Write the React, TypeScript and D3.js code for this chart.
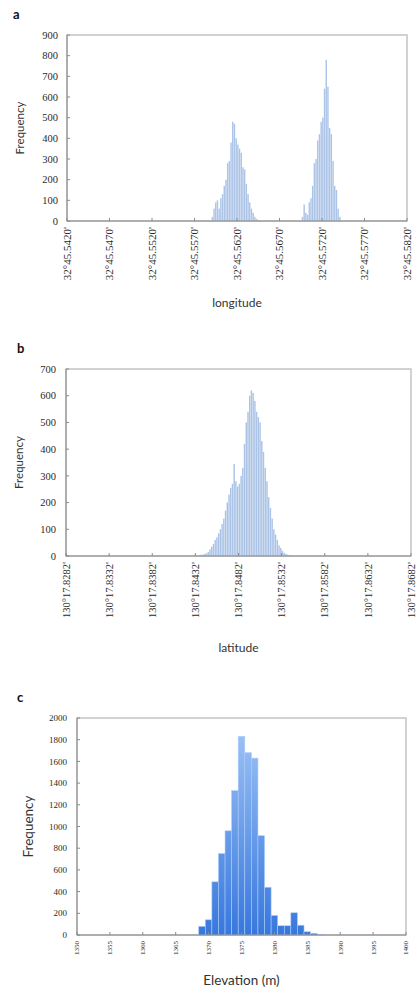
import * as d3 from "d3";

// ---- panel a: longitude (minutes after 32°45')
const lonTicks = [45.542, 45.547, 45.552, 45.557, 45.562, 45.567, 45.572, 45.577, 45.582];
const lonTickLabels = ["32°45.5420'", "32°45.5470'", "32°45.5520'", "32°45.5570'", "32°45.5620'", "32°45.5670'", "32°45.5720'", "32°45.5770'", "32°45.5820'"];
const lonBinWidth = 0.0002;
const lonStart1 = 45.559;
const lonCounts1 = [20, 60, 90, 100, 60, 110, 130, 170, 200, 280, 290, 380, 480, 470, 400, 370, 350, 330, 260, 250, 180, 130, 90, 60, 40, 20, 10, 5];
const lonStart2 = 45.5696;
const lonCounts2 = [20, 80, 40, 30, 90, 110, 170, 280, 300, 390, 420, 480, 500, 640, 780, 650, 450, 420, 290, 170, 150, 60, 20];

// ---- panel b: latitude (minutes after 130°17')
const latTicks = [17.8282, 17.8332, 17.8382, 17.8432, 17.8482, 17.8532, 17.8582, 17.8632, 17.8682];
const latTickLabels = ["130°17.8282'", "130°17.8332'", "130°17.8382'", "130°17.8432'", "130°17.8482'", "130°17.8532'", "130°17.8582'", "130°17.8632'", "130°17.8682'"];
const latBinWidth = 0.0002;
const latStart = 17.8434;
const latCounts = [2, 3, 5, 5, 8, 10, 15, 25, 35, 45, 60, 70, 85, 100, 120, 140, 170, 200, 230, 255, 270, 345, 280, 260, 270, 300, 330, 420, 500, 540, 600, 620, 610, 580, 540, 520, 500, 430, 390, 330, 280, 220, 180, 140, 100, 80, 60, 40, 30, 20, 12, 8, 5, 3, 2];

// ---- panel c: elevation
const elevTicks = [1350, 1355, 1360, 1365, 1370, 1375, 1380, 1385, 1390, 1395, 1400];
const elevBins = [1369, 1370, 1371, 1372, 1373, 1374, 1375, 1376, 1377, 1378, 1379, 1380, 1381, 1382, 1383, 1384, 1385, 1386, 1387];
const elevCounts = [80, 140, 490, 750, 960, 1330, 1830, 1680, 1630, 915, 440, 180, 85, 85, 205, 90, 30, 15, 5];

type Bin = { x0: number; x1: number; n: number };

const mkBins = (start: number, w: number, counts: number[]): Bin[] =>
  counts.map((n, i) => ({ x0: start + i * w, x1: start + (i + 1) * w, n }));

const serif = "'Liberation Serif', 'DejaVu Serif', serif";
const sans = "Lato, 'Open Sans', sans-serif";

function Panel(props: {
  left: number; top: number; right: number; bottom: number;
  xDomain: [number, number]; yMax: number; yStep: number;
  bins: Bin[]; xTicks: number[]; xTickLabels: string[];
  xTickSize: number; yTickSize: number; yLabelGap: number;
  title: string; titleY: number; titleSize: number;
  freqX: number; freqSize: number;
  letter: string; letterX: number; letterY: number;
  fill: string; stroke?: string; barGap: number;
}) {
  const p = props;
  const x = d3.scaleLinear().domain(p.xDomain).range([p.left, p.right]);
  const y = d3.scaleLinear().domain([0, p.yMax]).range([p.bottom, p.top]);
  const yTicks = d3.range(0, p.yMax + 1, p.yStep);
  return (
    <g>
      <text x={p.letterX} y={p.letterY} fontFamily={sans} fontWeight="bold" fontSize={13} fill="#111">{p.letter}</text>
      {/* frame */}
      <rect x={p.left} y={p.top} width={p.right - p.left} height={p.bottom - p.top} fill="none" stroke="#c4c4c4" strokeWidth={1.5} />
      {p.bins.map((b, i) => (
        <rect key={i} x={x(b.x0) + p.barGap / 2} y={y(b.n)}
          width={Math.max(0.3, x(b.x1) - x(b.x0) - p.barGap)} height={p.bottom - y(b.n)}
          fill={p.fill} stroke={p.stroke ?? "none"} strokeWidth={0.6} />
      ))}
      <line x1={p.left} x2={p.left} y1={p.top} y2={p.bottom} stroke="#8a8a8a" strokeWidth={1} />
      <line x1={p.left} x2={p.right} y1={p.bottom} y2={p.bottom} stroke="#8a8a8a" strokeWidth={1} />
      {yTicks.map(t => (
        <g key={t}>
          <line x1={p.left} x2={p.left + 3} y1={y(t)} y2={y(t)} stroke="#8a8a8a" />
          <text x={p.left - p.yLabelGap} y={y(t)} dy="0.35em" textAnchor="end" fontFamily={serif} fontSize={p.yTickSize} fill="#2a2a2a">{t}</text>
        </g>
      ))}
      {p.xTicks.map((t, i) => (
        <g key={t}>
          <line x1={x(t)} x2={x(t)} y1={p.bottom} y2={p.bottom - 3} stroke="#8a8a8a" />
          <text transform={`translate(${x(t)},${p.bottom + 6}) rotate(-90)`} dy="0.35em" textAnchor="end"
            fontFamily={serif} fontSize={p.xTickSize} fill="#2a2a2a">{p.xTickLabels[i]}</text>
        </g>
      ))}
      <text transform={`translate(${p.freqX},${(p.top + p.bottom) / 2}) rotate(-90)`} dy="0.35em" textAnchor="middle"
        fontFamily={sans} fontSize={p.freqSize} fill="#333">Frequency</text>
      <text x={(p.left + p.right) / 2} y={p.titleY} textAnchor="middle" fontFamily={sans} fontSize={p.titleSize} fill="#333">{p.title}</text>
    </g>
  );
}

export default function App() {
  const lonBins = [...mkBins(lonStart1, lonBinWidth, lonCounts1), ...mkBins(lonStart2, lonBinWidth, lonCounts2)];
  const latBins = mkBins(latStart, latBinWidth, latCounts);
  const elBins = elevBins.map((v, i) => ({ x0: v - 0.5, x1: v + 0.5, n: elevCounts[i] }));
  return (
    <svg width={417} height={990} style={{ position: "absolute", left: 0, top: 0, background: "#fff" }}>
      <defs>
        <linearGradient id="elevGrad" gradientUnits="userSpaceOnUse" x1={0} y1={718} x2={0} y2={935}>
          <stop offset="0%" stopColor="#a2c6f7" />
          <stop offset="100%" stopColor="#3777dd" />
        </linearGradient>
      </defs>
      <Panel left={67} top={35} right={407} bottom={221}
        xDomain={[45.542, 45.582]} yMax={900} yStep={100}
        bins={lonBins} xTicks={lonTicks} xTickLabels={lonTickLabels}
        xTickSize={11} yTickSize={10.5} yLabelGap={9}
        title="longitude" titleY={307} titleSize={12}
        freqX={20} freqSize={11.5}
        letter="a" letterX={13} letterY={19}
        fill="#aac3e6" barGap={0.3} />
      <Panel left={66} top={369} right={411} bottom={556}
        xDomain={[17.8282, 17.8682]} yMax={700} yStep={100}
        bins={latBins} xTicks={latTicks} xTickLabels={latTickLabels}
        xTickSize={10.5} yTickSize={10.5} yLabelGap={10}
        title="latitude" titleY={652} titleSize={12}
        freqX={19} freqSize={11.5}
        letter="b" letterX={17} letterY={353}
        fill="#aac3e6" barGap={0.3} />
      <Panel left={77} top={718} right={406} bottom={935}
        xDomain={[1350, 1400]} yMax={2000} yStep={200}
        bins={elBins} xTicks={elevTicks} xTickLabels={elevTicks.map(String)}
        xTickSize={7} yTickSize={9} yLabelGap={10}
        title="Elevation (m)" titleY={985} titleSize={13.5}
        freqX={28} freqSize={13.5}
        letter="c" letterX={17} letterY={702}
        fill="url(#elevGrad)" stroke="#a9cbf7" barGap={0} />
    </svg>
  );
}
